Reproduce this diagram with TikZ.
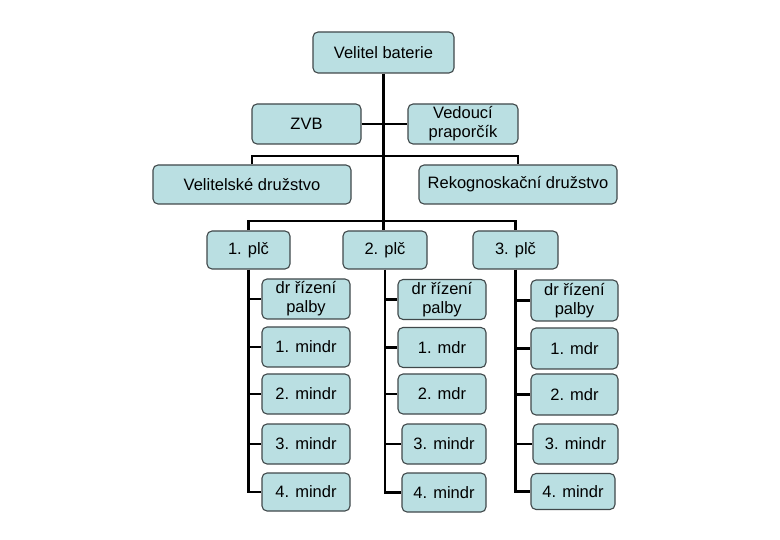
\documentclass[tikz,border=0pt]{standalone}
\usepackage{fontspec}
\setmainfont{Liberation Sans}
\usepackage{tikz}
\usetikzlibrary{positioning,calc}
\definecolor{orgfill}{RGB}{186,223,226}
\definecolor{orgdraw}{RGB}{64,72,74}

\begin{document}
\begin{tikzpicture}[
  x=1pt, y=-1pt,
  font=\fontsize{16.5}{19}\selectfont,
  unit/.style={draw=orgdraw, line width=1.1pt, fill=orgfill, rounded corners=5pt,
               inner sep=0pt, align=center, minimum height=40pt},
  tree/.style={draw=black, line width=2.6pt}
]
\useasboundingbox (0,0) rectangle (780,540);

% ---- X positions ----
\def\xA{306}   % 1. plc column
\def\xB{442}   % 2. plc column
\def\xC{574.5} % 3. plc column

% ---- Top ----
\node[unit, minimum width=141pt, minimum height=41pt] (vb) at (383.5,52.5) {Velitel baterie};
\node[unit, minimum width=109pt] (zvb) at (306.5,124) {ZVB};
\node[unit, minimum width=110pt] (vd) at (463,124) {Vedoucí\\praporčík};
\node[unit, minimum width=198pt, minimum height=39pt] (vel) at (252,184.5) {Velitelské družstvo};
\node[unit, minimum width=198pt, minimum height=39pt] (rek) at (518,184.5) {Rekognoskační družstvo};

% ---- Platoons ----
\node[unit, minimum width=83pt, minimum height=38pt] (p1) at (248.5,250) {1. plč};
\node[unit, minimum width=84pt, minimum height=38pt] (p2) at (385,250) {2. plč};
\node[unit, minimum width=85pt, minimum height=38pt] (p3) at (515.5,250) {3. plč};

% ---- Column 1 ----
\node[unit, minimum width=88pt] (a1) at (\xA,299) {dr řízení\\palby};
\node[unit, minimum width=88pt] (a2) at (\xA,347) {1. mindr};
\node[unit, minimum width=88pt] (a3) at (\xA,394) {2. mindr};
\node[unit, minimum width=88pt] (a4) at (\xA,444) {3. mindr};
\node[unit, minimum width=88pt, minimum height=38pt] (a5) at (\xA,492) {4. mindr};

% ---- Column 2 ----
\node[unit, minimum width=88pt] (b1) at (\xB,299.5) {dr řízení\\palby};
\node[unit, minimum width=88pt] (b2) at (\xB,347.5) {1. mdr};
\node[unit, minimum width=88pt] (b3) at (\xB,394) {2. mdr};
\node[unit, minimum width=84pt] (b4) at (444,444) {3. mindr};
\node[unit, minimum width=84pt, minimum height=39pt] (b5) at (444,492.5) {4. mindr};

% ---- Column 3 ----
\node[unit, minimum width=87pt, minimum height=41pt] (c1) at (\xC,300.5) {dr řízení\\palby};
\node[unit, minimum width=87pt, minimum height=41pt] (c2) at (\xC,348.5) {1. mdr};
\node[unit, minimum width=87pt, minimum height=41pt] (c3) at (\xC,394.5) {2. mdr};
\node[unit, minimum width=85pt] (c4) at (575.5,444) {3. mindr};
\node[unit, minimum width=84pt, minimum height=36pt] (c5) at (573,491.5) {4. mindr};

% ---- Connectors ----
\coordinate (bus1) at (vb.south |- 0,156);
\coordinate (bus2) at (vb.south |- 0,221);
\draw[tree] (vb.south) -- (vb.south |- p2.north);
\draw[tree] (zvb.east) -- (vd.west);
\draw[tree] (vel.north) |- (bus1) -| (rek.north);
\draw[tree] (p1.north) |- (bus2) -| (p3.north);

\foreach \c/\m in {p1/a, p2/b, p3/c} {
  \draw[tree] (\c.south) |- (\m5.west);
  \foreach \i in {1,...,4}
    \draw[tree] (\c.south |- \m\i.west) -- (\m\i.west);
}

\end{tikzpicture}
\end{document}
